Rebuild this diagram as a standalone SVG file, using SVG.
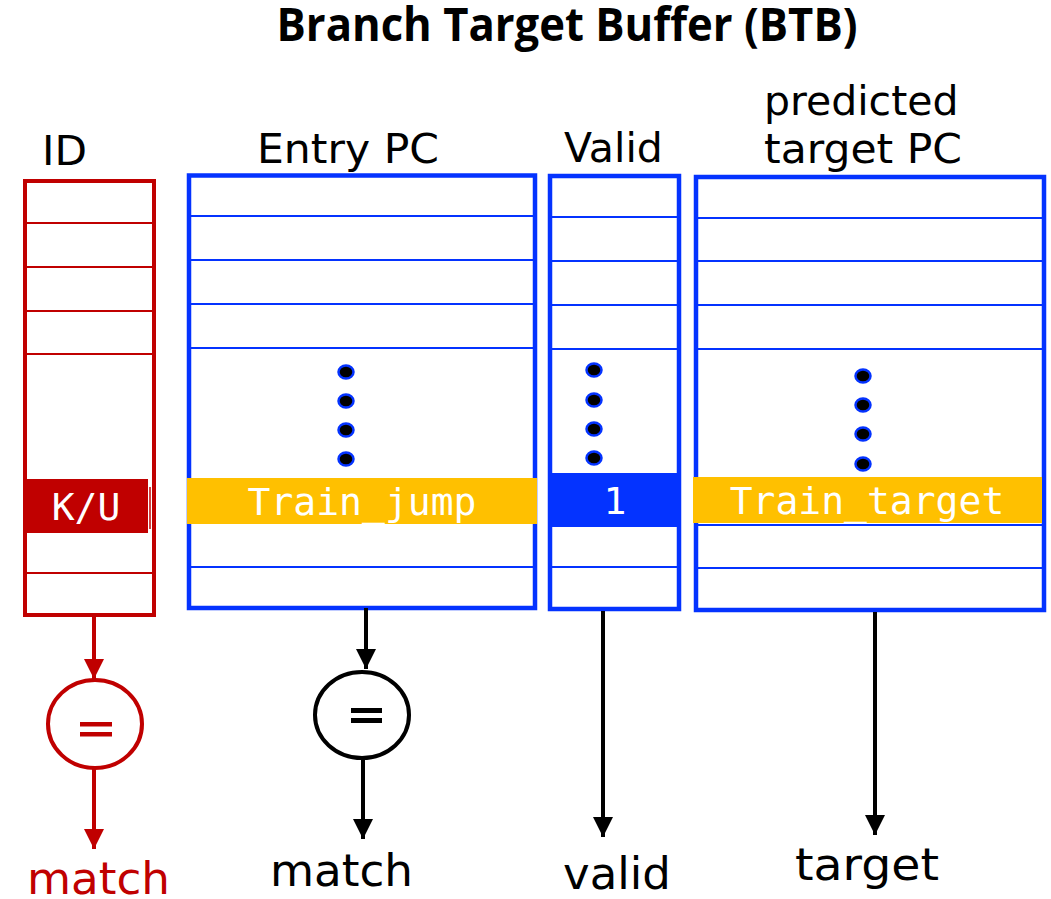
<svg xmlns="http://www.w3.org/2000/svg" width="1051" height="899" viewBox="0 0 1051 899">
  <defs>
    <marker id="ahBlack" markerWidth="5" markerHeight="5" refX="5" refY="2.5" orient="auto" markerUnits="strokeWidth">
      <path d="M0,0 L5,2.5 L0,5 Z" fill="#000"/>
    </marker>
    <marker id="ahRed" markerWidth="5" markerHeight="5" refX="5" refY="2.5" orient="auto" markerUnits="strokeWidth">
      <path d="M0,0 L5,2.5 L0,5 Z" fill="#c00000"/>
    </marker>
  </defs>
  <style>
    .title { font-family: "Open Sans", "Liberation Sans", sans-serif; font-weight: bold; font-size: 46px; fill: #000; }
    .hdr { font-family: "DejaVu Sans", Verdana, sans-serif; font-size: 41px; fill: #000; }
    .out { font-family: "DejaVu Sans", Verdana, sans-serif; font-size: 45px; fill: #000; }
    .red { fill: #c00000; }
    .mono { font-family: "DejaVu Sans Mono", "Liberation Mono", monospace; font-size: 38px; fill: #fff; text-anchor: middle; }
    .tblBlue { fill: #fff; stroke: #0433ff; stroke-width: 4.5; }
    .tblRed { fill: #fff; stroke: #c00000; stroke-width: 4; }
    .rowBlue { stroke: #0433ff; stroke-width: 2; }
    .rowRed { stroke: #c00000; stroke-width: 2; }
    .dot { fill: #000; stroke: #0433ff; stroke-width: 2.5; }
    .cmp { fill: #fff; stroke-width: 4; }
    .wire { stroke-width: 4; fill: none; }
  </style>

  <text class="title" x="567" y="41" text-anchor="middle" textLength="581" lengthAdjust="spacingAndGlyphs">Branch Target Buffer (BTB)</text>

  <!-- ID column -->
  <g id="id-table">
    <text class="hdr" x="42" y="165" font-size="42" textLength="45" lengthAdjust="spacingAndGlyphs">ID</text>
    <rect class="tblRed" x="25" y="181" width="129" height="434"/>
    <line class="rowRed" x1="27" y1="223" x2="152" y2="223"/>
    <line class="rowRed" x1="27" y1="267" x2="152" y2="267"/>
    <line class="rowRed" x1="27" y1="311" x2="152" y2="311"/>
    <line class="rowRed" x1="27" y1="354" x2="152" y2="354"/>
    <line class="rowRed" x1="27" y1="573" x2="152" y2="573"/>
    <rect x="27" y="479" width="121" height="54" fill="#c00000"/>
    <line x1="150" y1="487" x2="150" y2="529" stroke="#c00000" stroke-width="1.5"/>
    <text class="mono" x="86" y="520" font-size="34">K/U</text>
  </g>

  <!-- Entry PC column -->
  <g id="entry-pc-table">
    <text class="hdr" x="257" y="163" textLength="182" lengthAdjust="spacingAndGlyphs">Entry PC</text>
    <rect class="tblBlue" x="189" y="175.5" width="346" height="432.5"/>
    <line class="rowBlue" x1="191" y1="216" x2="533" y2="216"/>
    <line class="rowBlue" x1="191" y1="260" x2="533" y2="260"/>
    <line class="rowBlue" x1="191" y1="304" x2="533" y2="304"/>
    <line class="rowBlue" x1="191" y1="348" x2="533" y2="348"/>
    <line class="rowBlue" x1="191" y1="567" x2="533" y2="567"/>
    <ellipse class="dot" cx="346" cy="372" rx="7.5" ry="6.5"/>
    <ellipse class="dot" cx="346" cy="401" rx="7.5" ry="6.5"/>
    <ellipse class="dot" cx="346" cy="430" rx="7.5" ry="6.5"/>
    <ellipse class="dot" cx="346" cy="459" rx="7.5" ry="6.5"/>
    <rect x="187" y="478" width="350" height="46" fill="#ffc000"/>
    <text class="mono" x="362" y="515">Train_jump</text>
  </g>

  <!-- Valid column -->
  <g id="valid-table">
    <text class="hdr" x="564" y="162">Valid</text>
    <rect class="tblBlue" x="550" y="176" width="129" height="433"/>
    <line class="rowBlue" x1="552" y1="217" x2="677" y2="217"/>
    <line class="rowBlue" x1="552" y1="261" x2="677" y2="261"/>
    <line class="rowBlue" x1="552" y1="305" x2="677" y2="305"/>
    <line class="rowBlue" x1="552" y1="349" x2="677" y2="349"/>
    <line class="rowBlue" x1="552" y1="567" x2="677" y2="567"/>
    <ellipse class="dot" cx="594" cy="370" rx="7.5" ry="6.5"/>
    <ellipse class="dot" cx="594" cy="400" rx="7.5" ry="6.5"/>
    <ellipse class="dot" cx="594" cy="429" rx="7.5" ry="6.5"/>
    <ellipse class="dot" cx="594" cy="458" rx="7.5" ry="6.5"/>
    <rect x="552" y="473" width="128" height="54" fill="#0433ff"/>
    <text class="mono" x="615" y="514">1</text>
  </g>

  <!-- Predicted target PC column -->
  <g id="target-pc-table">
    <text class="hdr" x="764" y="115">predicted</text>
    <text class="hdr" x="764" y="163" textLength="198" lengthAdjust="spacingAndGlyphs">target PC</text>
    <rect class="tblBlue" x="696" y="177" width="348" height="433"/>
    <line class="rowBlue" x1="698" y1="218" x2="1042" y2="218"/>
    <line class="rowBlue" x1="698" y1="261" x2="1042" y2="261"/>
    <line class="rowBlue" x1="698" y1="305" x2="1042" y2="305"/>
    <line class="rowBlue" x1="698" y1="349" x2="1042" y2="349"/>
    <line class="rowBlue" x1="698" y1="525" x2="1042" y2="525"/>
    <line class="rowBlue" x1="698" y1="568" x2="1042" y2="568"/>
    <ellipse class="dot" cx="863" cy="376" rx="7.5" ry="6.5"/>
    <ellipse class="dot" cx="863" cy="405" rx="7.5" ry="6.5"/>
    <ellipse class="dot" cx="863" cy="434" rx="7.5" ry="6.5"/>
    <ellipse class="dot" cx="863" cy="464" rx="7.5" ry="6.5"/>
    <rect x="693" y="477" width="349" height="46" fill="#ffc000"/>
    <text class="mono" x="867" y="514">Train_target</text>
  </g>

  <!-- Comparators -->
  <g id="id-compare">
    <ellipse class="cmp" cx="95" cy="724" rx="47" ry="44" stroke="#c00000"/>
    <rect x="80" y="722" width="32" height="4.5" fill="#c00000"/>
    <rect x="80" y="732" width="32" height="4.5" fill="#c00000"/>
  </g>
  <g id="pc-compare">
    <ellipse class="cmp" cx="362" cy="715" rx="47" ry="43" stroke="#000"/>
    <rect x="351" y="708" width="31" height="5" fill="#000"/>
    <rect x="351" y="718" width="31" height="5" fill="#000"/>
  </g>

  <!-- Connectors -->
  <g id="connectors">
    <line class="wire" x1="94" y1="617" x2="94" y2="679" stroke="#c00000" marker-end="url(#ahRed)"/>
    <line class="wire" x1="94" y1="769" x2="94" y2="849" stroke="#c00000" marker-end="url(#ahRed)"/>
    <line class="wire" x1="366" y1="608" x2="366" y2="669" stroke="#000" marker-end="url(#ahBlack)"/>
    <line class="wire" x1="363" y1="759" x2="363" y2="839" stroke="#000" marker-end="url(#ahBlack)"/>
    <line class="wire" x1="603" y1="611" x2="603" y2="837" stroke="#000" marker-end="url(#ahBlack)"/>
    <line class="wire" x1="875" y1="612" x2="875" y2="835" stroke="#000" marker-end="url(#ahBlack)"/>
  </g>

  <!-- Outputs -->
  <g id="outputs">
    <text class="out red" x="27" y="894" textLength="143" lengthAdjust="spacingAndGlyphs">match</text>
    <text class="out" x="270" y="886" textLength="143" lengthAdjust="spacingAndGlyphs">match</text>
    <text class="out" x="563" y="889">valid</text>
    <text class="out" x="795" y="880" font-size="46" textLength="144" lengthAdjust="spacingAndGlyphs">target</text>
  </g>
</svg>
